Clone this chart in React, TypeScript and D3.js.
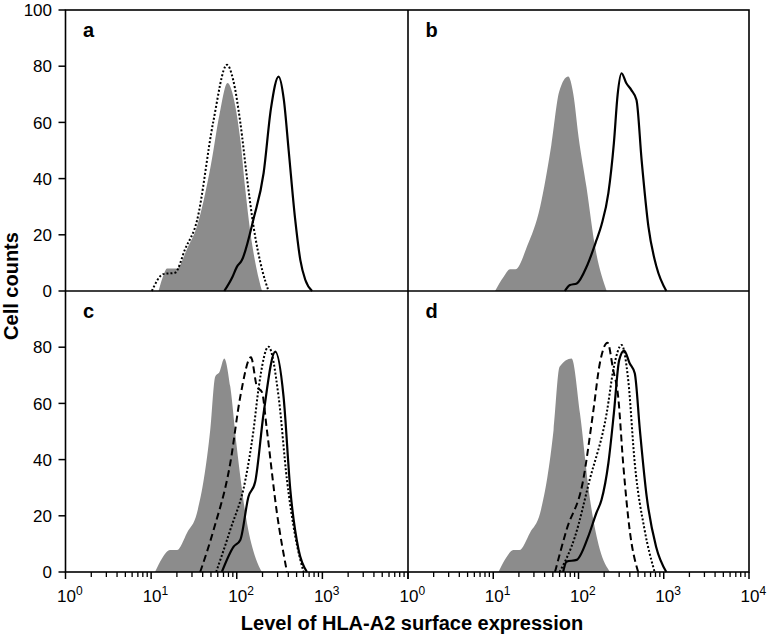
import React from 'react';
import * as d3 from 'd3';

type Pt = [number, number]; // [fluorescence intensity, cell count]

// Panel a
const controlA: Pt[] = [
  [12.2, 0], [14.1, 6], [15.3, 8], [20, 8], [26.3, 15], [34.3, 23], [50, 45], [63, 63],
  [78, 74], [93, 68], [110, 54], [126, 36], [144, 21], [170, 8], [197, 0],
];
const dottedA: Pt[] = [
  [10.2, 0], [13.8, 6], [19, 6.5], [25, 15], [34.3, 25], [53, 60], [77, 80.5], [91, 75],
  [110, 60], [132, 40], [157, 23], [200, 7], [235, 0],
];
const solidA: Pt[] = [
  [71.5, 0], [89, 5], [100, 8.5], [115, 11], [158, 26], [206, 42], [251, 65], [308, 76.3],
  [355, 68], [404, 50], [479, 26], [553, 11], [631, 4], [759, 0],
];

// Panel b
const controlB: Pt[] = [
  [10.5, 0], [13.2, 5], [15.8, 7.7], [18.2, 7.7], [25, 16], [35.5, 30], [48, 52], [59.4, 71],
  [75.7, 76.3], [87, 70], [100, 55], [124, 37], [158, 15], [214, 0],
];
const solidB: Pt[] = [
  [69, 0], [79.4, 2.1], [95.5, 2.7], [126, 9], [162, 18], [186, 23.5], [224, 34.8], [260, 52.6],
  [288, 70], [320, 77.5], [363, 74], [417, 71.5], [479, 68], [550, 46.6], [661, 22.9], [822, 8.6], [1072, 0],
];

// Panel c
const controlC: Pt[] = [
  [11.1, 0], [13.5, 5], [16.6, 7.8], [20, 7.8], [26.3, 14], [34.3, 21], [49, 50.5], [56, 69.5],
  [63, 71.3], [71.5, 76], [84, 66], [100, 44.6], [132, 17.3], [166, 5], [197, 0],
];
const dashedC: Pt[] = [
  [37.4, 0], [53.7, 15], [84, 38.7], [110, 62.4], [146.6, 76.4], [172, 66], [197, 64], [225, 50.5],
  [295, 20.9], [386, 0],
];
const dottedC: Pt[] = [
  [57.5, 0], [84, 15], [126, 32.7], [157, 50.5], [180, 65.4], [235, 80.2], [308, 62.4], [386, 32.7],
  [483, 12.6], [603, 0],
];
const solidC: Pt[] = [
  [67, 0], [92, 9], [110, 11.4], [137, 26.8], [164, 32], [206, 56.5], [282, 78.4], [352, 62.4],
  [423, 29], [528, 7.8], [661, 0],
];

// Panel d
const controlD: Pt[] = [
  [11.5, 0], [14.1, 5], [17.2, 7.8], [20.2, 7.8], [27, 14], [35.5, 21], [51, 50.5], [60, 73],
  [83, 76], [104, 56.5], [135, 26.8], [178, 8], [234, 0],
];
const dashedD: Pt[] = [
  [53, 0], [72.4, 15], [113.5, 32.7], [148, 56.5], [178, 74.3], [219, 81.6], [255, 72], [292, 62.4],
  [334, 38.7], [398, 15], [501, 0],
];
const dottedD: Pt[] = [
  [60, 0], [91, 12.6], [135, 32.7], [214, 56.5], [260, 73], [320, 80.8], [383, 68.3], [457, 38.7],
  [596, 15], [782, 0],
];
const solidD: Pt[] = [
  [66, 0], [72.4, 3.7], [95, 4.3], [130, 12.6], [162, 21], [186, 25.6], [224, 38.7], [260, 56.5],
  [300, 75.4], [343, 78.8], [398, 74.3], [457, 70.7], [525, 50.5], [631, 26.8], [813, 9], [1072, 0],
];

const panelLabels = ['a', 'b', 'c', 'd'];
const yTicksTop = [0, 20, 40, 60, 80, 100];
const yTicksBottom = [0, 20, 40, 60, 80];
const xDecadesLeft = [0, 1, 2, 3];
const xDecadesRight = [0, 1, 2, 3, 4];
const yTitle = 'Cell counts';
const xTitle = 'Level of HLA-A2 surface expression';

const FONT = '"Liberation Sans", Arial, Helvetica, sans-serif';
const GREY = '#8c8c8c';

export default function App() {
  const W = 767, H = 635;
  const colX: [number, number][] = [[65.5, 408], [408, 749]];
  const rowY: [number, number][] = [[10, 291], [291, 572]];

  const panels = [
    { label: panelLabels[0], col: 0, row: 0, control: controlA, dashed: null as Pt[] | null, dotted: dottedA as Pt[] | null, solid: solidA },
    { label: panelLabels[1], col: 1, row: 0, control: controlB, dashed: null, dotted: null, solid: solidB },
    { label: panelLabels[2], col: 0, row: 1, control: controlC, dashed: dashedC, dotted: dottedC, solid: solidC },
    { label: panelLabels[3], col: 1, row: 1, control: controlD, dashed: dashedD, dotted: dottedD, solid: solidD },
  ];

  const minorTicks: number[] = [];
  for (let e = 0; e < 4; e++) for (let m = 2; m <= 9; m++) minorTicks.push(m * Math.pow(10, e));

  return (
    <svg width={W} height={H} style={{ position: 'absolute', left: 0, top: 0, background: '#fff' }} fontFamily={FONT}>
      <rect x={0} y={0} width={W} height={H} fill="#fff" />
      {panels.map((p) => {
        const [x0, x1] = colX[p.col];
        const [yt, yb] = rowY[p.row];
        const x = d3.scaleLog().domain([1, 10000]).range([x0, x1]);
        const y = d3.scaleLinear().domain([0, 100]).range([yb, yt]);
        const area = d3.area<Pt>().x((d) => x(d[0])).y0(y(0)).y1((d) => y(d[1])).curve(d3.curveMonotoneX);
        const line = d3.line<Pt>().x((d) => x(d[0])).y((d) => y(d[1])).curve(d3.curveMonotoneX);
        const decades = p.col === 0 ? xDecadesLeft : xDecadesRight;
        return (
          <g key={p.label}>
            <path d={area(p.control) || ''} fill={GREY} stroke="none" />
            {p.dashed && <path d={line(p.dashed) || ''} fill="none" stroke="#000" strokeWidth={2} strokeDasharray="7,4" />}
            {p.dotted && <path d={line(p.dotted) || ''} fill="none" stroke="#000" strokeWidth={2} strokeDasharray="2,2" />}
            <path d={line(p.solid) || ''} fill="none" stroke="#000" strokeWidth={2.2} strokeLinejoin="round" />
            <text x={x0 + 17.5} y={yt + 27} fontSize={20} fontWeight="bold">{p.label}</text>
            {p.row === 1 && (
              <g>
                {xDecadesRight.map((e) => {
                  const v = Math.pow(10, e);
                  return <line key={'M' + e} x1={x(v)} x2={x(v)} y1={yb} y2={yb + 7} stroke="#000" strokeWidth={1.5} />;
                })}
                {decades.map((e) => {
                  const v = Math.pow(10, e);
                  return (
                    <text key={'L' + e} x={x(v) - 8.5} y={yb + 30} fontSize={17}>
                      10<tspan dy={-7} fontSize={12}>{e}</tspan>
                    </text>
                  );
                })}
                {minorTicks.map((v) => (
                  <line key={'m' + v} x1={x(v)} x2={x(v)} y1={yb} y2={yb + 5} stroke="#000" strokeWidth={1.3} />
                ))}
              </g>
            )}
            {p.col === 0 && (
              <g>
                {(p.row === 0 ? yTicksTop : yTicksBottom).map((t) => (
                  <g key={'y' + t}>
                    <line x1={x0 - 7} x2={x0} y1={y(t)} y2={y(t)} stroke="#000" strokeWidth={1.5} />
                    <text x={52} y={y(t)} dy="0.36em" fontSize={17} textAnchor="end">{t}</text>
                  </g>
                ))}
              </g>
            )}
          </g>
        );
      })}
      {/* frames */}
      <rect x={colX[0][0]} y={rowY[0][0]} width={colX[1][1] - colX[0][0]} height={rowY[1][1] - rowY[0][0]} fill="none" stroke="#000" strokeWidth={1.6} />
      <line x1={colX[1][0]} x2={colX[1][0]} y1={rowY[0][0]} y2={rowY[1][1]} stroke="#000" strokeWidth={1.6} />
      <line x1={colX[0][0]} x2={colX[1][1]} y1={rowY[1][0]} y2={rowY[1][0]} stroke="#000" strokeWidth={1.6} />
      <text transform="translate(18,286) rotate(-90)" textAnchor="middle" fontSize={20} fontWeight="bold">{yTitle}</text>
      <text x={412} y={630} textAnchor="middle" fontSize={20} fontWeight="bold">{xTitle}</text>
    </svg>
  );
}
